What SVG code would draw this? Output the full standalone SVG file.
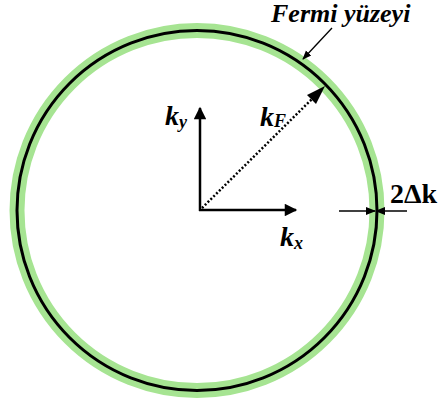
<svg xmlns="http://www.w3.org/2000/svg" width="440" height="403" viewBox="0 0 440 403">
<defs>
<marker id="ah" viewBox="0 0 10 10" refX="9" refY="5" markerWidth="5.5" markerHeight="5" orient="auto" markerUnits="strokeWidth">
<path d="M0,0 L10,5 L0,10 Z" fill="#000"/>
</marker>
<marker id="ahs" viewBox="0 0 10 10" refX="9" refY="5" markerWidth="7" markerHeight="7" orient="auto" markerUnits="strokeWidth">
<path d="M0,1 L10,5 L0,9 Z" fill="#000"/>
</marker>
</defs>
<style>
.lbl{font-family:"Liberation Serif","Times New Roman",serif;font-weight:bold;fill:#000}
.it{font-style:italic}
.ax{stroke:#000;stroke-width:2.5;fill:none}
</style>
<rect width="440" height="403" fill="#fff"/>
<g id="fermi-surface">
<circle cx="197" cy="210.5" r="180" fill="none" stroke="#a6e492" stroke-width="15"/>
<circle cx="197" cy="210.5" r="180" fill="none" stroke="#000" stroke-width="3"/>
</g>
<g id="connectors">
<line class="ax" x1="200" y1="211" x2="200" y2="108" marker-end="url(#ah)"/>
<line class="ax" x1="199" y1="210" x2="296" y2="210" marker-end="url(#ah)"/>
<line x1="202" y1="208" x2="316" y2="95" stroke="#000" stroke-width="2.5" stroke-dasharray="2 2"/>
<path d="M325,86 L307,95 L316,104 Z" fill="#000"/>
<line x1="332" y1="28" x2="303" y2="59" stroke="#000" stroke-width="1.3" marker-end="url(#ahs)"/>
<line x1="339" y1="211" x2="375" y2="211" stroke="#000" stroke-width="1.5" marker-end="url(#ahs)"/>
<line x1="407" y1="211" x2="376" y2="211" stroke="#000" stroke-width="1.5" marker-end="url(#ahs)"/>
</g>
<g id="label-fermi"><text class="lbl it" x="271" y="22" font-size="26">Fermi yüzeyi</text></g>
<g id="label-ky"><text class="lbl it" x="165" y="125" font-size="28">k<tspan font-size="18" dy="3">y</tspan></text></g>
<g id="label-kx"><text class="lbl it" x="280" y="246" font-size="28">k<tspan font-size="18" dy="3">x</tspan></text></g>
<g id="label-kf"><text class="lbl it" x="260" y="126" font-size="28">k<tspan font-size="18" dy="1">F</tspan></text></g>
<g id="label-dk"><text class="lbl" x="390" y="203" font-size="28">2Δk</text></g>
</svg>
